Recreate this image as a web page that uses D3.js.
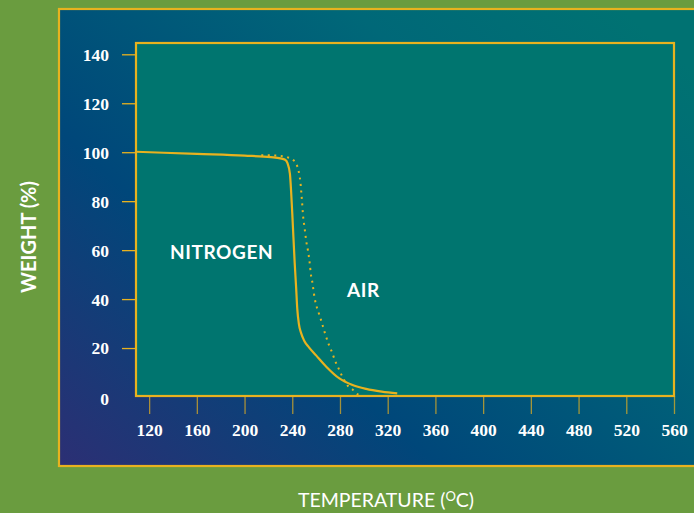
<!DOCTYPE html>
<html><head><meta charset="utf-8">
<script src="https://cdn.jsdelivr.net/npm/d3@7"></script>
<style>
html,body{margin:0;padding:0;background:#6a9c3f;}
svg{display:block;}
</style></head>
<body>
<script>
const xTicks = [120,160,200,240,280,320,360,400,440,480,520,560];
const yTicks = [0,20,40,60,80,100,120,140];

const tempNitrogen   = [109,160,200,222,230,234,236,238,240,242,243.2,244.2,245.5,247.5,250,254,260,268.5,279.5,290,302,315,328];
const weightNitrogen = [100.2,99.3,98.6,98,97.5,96.9,95.5,91.3,75,55,45,36,30,26,23,20.3,17,12.4,7.6,5,3.3,2.2,1.5];

const tempAir   = [214,222,230,235.6,240.6,243.6,245,246,246.8,247.5,248.2,249,250.4,251.8,253.2,254.6,255.7,256.5,258.8,262.4,264.4,267.2,270.5,272.8,276.4,279.2,282,286.7,291,295,298.4];
const weightAir = [98.8,98.7,98.5,98,96.9,95,92.9,90.6,87.9,84,79.7,74.3,68.8,63.4,59.7,54.8,49.8,47.8,40.3,34,31,26.4,21.6,18.9,14.2,11.3,8.3,4.5,2.9,1.1,1];

const seriesLabels = ["NITROGEN","AIR"];

const W = 694, H = 513;
const gold = "#e8b21f";
const svg = d3.select("body").append("svg").attr("width",W).attr("height",H);

const defs = svg.append("defs");
const grad = defs.append("linearGradient").attr("id","panelGrad")
  .attr("x1","0").attr("y1","1").attr("x2","1").attr("y2","0.25");
grad.append("stop").attr("offset","0").attr("stop-color","#2c2f74");
grad.append("stop").attr("offset","0.35").attr("stop-color","#00477a");
grad.append("stop").attr("offset","0.75").attr("stop-color","#006878");
grad.append("stop").attr("offset","1").attr("stop-color","#007272");

svg.append("rect").attr("width",W).attr("height",H).attr("fill","#6a9c3f");
// outer panel
svg.append("rect").attr("x",59).attr("y",9).attr("width",W).attr("height",457)
  .attr("fill","url(#panelGrad)").attr("stroke",gold).attr("stroke-width",2.2);

const plot = {left:136, right:674, top:43, bottom:396};
const x = d3.scaleLinear().domain([109,560]).range([plot.left, plot.right]);
const y = d3.scaleLinear().domain([0,140]).range([397, 54.3]);

svg.append("rect").attr("x",plot.left).attr("y",plot.top)
  .attr("width",plot.right-plot.left).attr("height",plot.bottom-plot.top)
  .attr("fill","#00756f");

const tickFont = "'Liberation Serif', serif";
// y axis
const yAxis = svg.append("g").attr("transform",`translate(${plot.left},0)`)
  .call(d3.axisLeft(y).tickValues(yTicks).tickSize(14).tickPadding(13).tickFormat(d3.format("d")));
yAxis.select(".domain").remove();
yAxis.selectAll(".tick line").attr("stroke",gold).attr("stroke-width",1.3)
  .filter(d=>d===0).remove();
yAxis.selectAll(".tick text").attr("fill","#fff")
  .style("font-family",tickFont).style("font-weight","bold").style("font-size","17.5px")
  .attr("dy","0.34em");
yAxis.selectAll(".tick").filter(d=>d===0).select("text").attr("dy","0.42em");

// x axis
const xAxis = svg.append("g").attr("transform",`translate(0,${plot.bottom})`)
  .call(d3.axisBottom(x).tickValues(xTicks).tickSize(18).tickPadding(10).tickFormat(d3.format("d")));
xAxis.select(".domain").remove();
xAxis.selectAll(".tick line").attr("stroke",gold).attr("stroke-opacity",0.7).attr("stroke-width",1.3);
xAxis.selectAll(".tick text").attr("fill","#fff")
  .style("font-family",tickFont).style("font-weight","bold").style("font-size","17.5px");

// plot border
svg.append("rect").attr("x",plot.left).attr("y",plot.top)
  .attr("width",plot.right-plot.left).attr("height",plot.bottom-plot.top)
  .attr("fill","none").attr("stroke",gold).attr("stroke-width",2.2);

const line = d3.line().x(d=>x(d[0])).y(d=>y(d[1])).curve(d3.curveMonotoneX);
const nData = tempNitrogen.map((t,i)=>[t,weightNitrogen[i]]);
const aData = tempAir.map((t,i)=>[t,weightAir[i]]);

svg.append("path").datum(aData).attr("d",line).attr("fill","none")
  .attr("stroke",gold).attr("stroke-width",2).attr("stroke-dasharray","2,4.5");
svg.append("path").datum(nData).attr("d",line).attr("fill","none")
  .attr("stroke",gold).attr("stroke-width",2.2);

const labFont = "Lato, 'Open Sans', sans-serif";
svg.append("text").attr("x",170).attr("y",259).text(seriesLabels[0])
  .attr("fill","#fff").style("font-family",labFont).style("font-weight","bold").style("font-size","19px")
  .style("letter-spacing","0.6px");
svg.append("text").attr("x",347).attr("y",297).text(seriesLabels[1])
  .attr("fill","#fff").style("font-family",labFont).style("font-weight","bold").style("font-size","19px")
  .style("letter-spacing","0.6px");

svg.append("text").attr("transform","translate(36,237) rotate(-90)").attr("text-anchor","middle")
  .text("WEIGHT (%)").attr("fill","#fff").style("font-family",labFont).style("font-weight","bold").style("font-size","20px");

const tt = svg.append("text").attr("x",386).attr("y",507).attr("text-anchor","middle")
  .attr("fill","#fff").style("font-family",labFont).style("font-size","19.5px");
tt.append("tspan").text("TEMPERATURE (");
tt.append("tspan").text("O").attr("dy","-6").style("font-size","13px");
tt.append("tspan").text("C)").attr("dy","6");
</script>
</body></html>
